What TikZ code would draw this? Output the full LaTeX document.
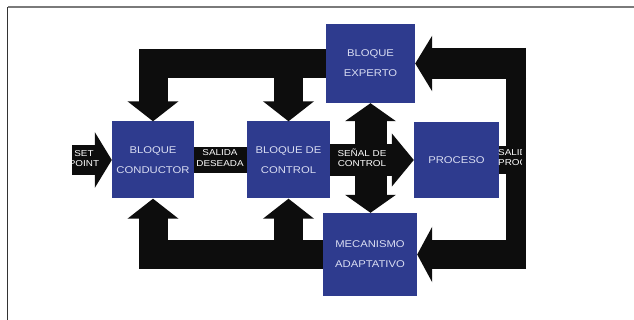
\documentclass[tikz,border=0pt]{standalone}
\usepackage{fontspec}
\usetikzlibrary{arrows.meta}
\newfontfamily\blockfont[FakeStretch=1.15]{Liberation Sans}
\definecolor{boxblue}{HTML}{2E3B8E}
\definecolor{boxtext}{HTML}{D9DDF2}
\definecolor{bandblack}{HTML}{0D0D0D}
\definecolor{framegray}{HTML}{7A7A7A}
\definecolor{framedark}{HTML}{333333}
\tikzset{
  bloque/.style={fill=boxblue, text=boxtext, align=center, inner sep=0pt,
    font=\blockfont\fontsize{9.8}{20}\selectfont},
  banda/.style={draw=bandblack, line width=29pt, line join=miter},
  punta/.style={-{Triangle[width=50pt,length=20pt]}},
  rotulo/.style={text=white, align=center, inner sep=0pt,
    font=\blockfont\fontsize{8.6}{10.5}\selectfont},
}
\begin{document}
\begin{tikzpicture}[x=1pt, y=-1pt]
    \useasboundingbox (0,0) rectangle (634,320);
    % frame
    \draw[framegray, line width=1.6pt] (8,7) -- (634,7);
    \draw[framedark, line width=1.6pt] (7.5,7) -- (7.5,320);

    % blocks
    \node[bloque, minimum width=82pt, minimum height=77pt] (cond) at (153,160) {BLOQUE\\CONDUCTOR};
    \node[bloque, minimum width=83pt, minimum height=77pt] (ctrl) at (288.5,160) {BLOQUE DE\\CONTROL};
    \node[bloque, minimum width=85pt, minimum height=76pt] (proc) at (456.5,160) {PROCESO};
    \node[bloque, minimum width=89pt, minimum height=79pt] (exp) at (370.5,63.5) {BLOQUE\\EXPERTO};
    \node[bloque, minimum width=94pt, minimum height=83pt] (mec) at (370,254.5) {MECANISMO\\ADAPTATIVO};

    \coordinate (sp) at (72,160);
    \coordinate (rtop) at (516,48);
    \coordinate (rbot) at (516,269);
    \coordinate (redge) at (526,160);

    % L1 set point
    \draw[banda, line width=30pt, -{Triangle[width=55pt,length=17pt]}] (sp) -- (cond.west);
    % L2 salida deseada
    \draw[banda, line width=26pt] (cond.east) -- (ctrl.west);
    % L3 senal de control
    \draw[banda, line width=32pt, -{Triangle[width=52pt,length=22pt]}] (ctrl.east) -- (proc.west);
    % L4 experto <-> mecanismo
    \draw[banda, line width=32pt, {Triangle[width=50pt,length=18pt]}-{Triangle[width=50pt,length=18pt]}]
        (exp.south) -- (exp.south |- mec.north);

    % L5 top loop
    \draw[banda, punta] (exp.west) -| (cond.north);
    \draw[banda, punta] (exp.west -| ctrl.north) -- (ctrl.north);
    % L6 bottom loop
    \draw[banda, punta] (mec.west) -| (cond.south);
    \draw[banda, punta] (mec.west -| ctrl.south) -- (ctrl.south);

    % L7 right loop
    \draw[banda, line width=20pt] (rtop) -- (rbot);
    \draw[banda, line width=28pt] (proc.east) -- (proc.east -| redge);
    \draw[banda, line width=31pt, -{Triangle[width=55pt,length=17pt]}] (exp.east -| redge) -- (exp.east);
    \draw[banda, line width=28pt, -{Triangle[width=55pt,length=15pt]}] (mec.east -| redge) -- (mec.east);

    % labels
    \node[rotulo] (sd) at (220,158) {SALIDA\\DESEADA};
    \node[rotulo] (sc) at (362,158) {SEÑAL DE\\CONTROL};
    \begin{scope}
      \clip (72,140) rectangle (112,180);
      \node[rotulo] (spt) at (84,158.5) {SET\\POINT};
    \end{scope}
    \begin{scope}
      \clip (497,140) rectangle (521,180);
      \node[rotulo, align=left, anchor=west] (spr) at (498,157.5) {SALIDA\\PROCESO};
    \end{scope}
\end{tikzpicture}
\end{document}
